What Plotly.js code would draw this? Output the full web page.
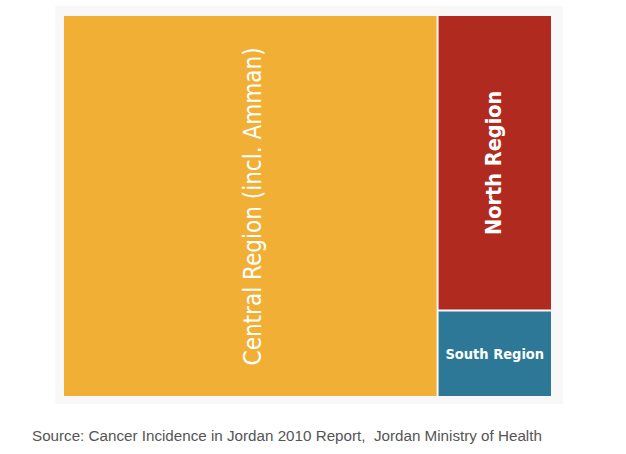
<!DOCTYPE html>
<html>
<head>
<meta charset="utf-8">
<script src="https://cdn.plot.ly/plotly-3.0.1.min.js"></script>
<style>html,body{margin:0;padding:0;background:#fff;}#chart{width:626px;height:454px;}</style>
</head>
<body>
<div id="chart"></div>
<script>
// Data (share of cancer cases by region, %)
var regions = ["Central Region (incl. Amman)", "North Region", "South Region"];
var shares = [76.6, 18.1, 5.3];
var colors = ["#F1B035", "#B02A20", "#2C7896"];
var sourceText = "Source: Cancer Incidence in Jordan 2010 Report,  Jordan Ministry of Health";

var labelFont = "'DejaVu Sans Condensed', 'DejaVu Sans', sans-serif";

var total = shares.reduce(function(a, b){ return a + b; }, 0);
var fc = shares[0] / total;
var rest = shares[1] + shares[2];
var fn = shares[1] / rest;

var trace = {
  type: "treemap",
  labels: regions,
  parents: ["", "", ""],
  values: shares,
  sort: true,
  marker: { colors: colors, line: { width: 0 }, pad: { t: 0, l: 0, r: 0, b: 0 } },
  tiling: { packing: "squarify", pad: 2 },
  pathbar: { visible: false },
  texttemplate: "%{label}",
  textposition: "middle center",
  textfont: {
    family: labelFont,
    size: 14.5,
    color: ["rgba(0,0,0,0)", "rgba(0,0,0,0)", "#ffffff"],
    weight: "bold"
  },
  hoverinfo: "label+value"
};

var layout = {
  width: 626,
  height: 454,
  margin: { l: 64, r: 75, t: 16, b: 58 },
  paper_bgcolor: "#ffffff",
  showlegend: false,
  shapes: [{
    type: "rect", xref: "paper", yref: "paper", layer: "below",
    x0: -0.018, x1: 1.025, y0: -0.021, y1: 1.026,
    fillcolor: "#f8f8f8", line: { width: 0 }
  }],
  annotations: [
    {
      text: regions[0], xref: "paper", yref: "paper",
      x: fc / 2 + 0.006, y: 0.5, textangle: -90, showarrow: false,
      xanchor: "center", yanchor: "middle",
      font: { family: labelFont, size: 24, color: "#ffffff" }
    },
    {
      text: "<b>" + regions[1] + "</b>", xref: "paper", yref: "paper",
      x: fc + (1 - fc) / 2, y: 1 - fn / 2, textangle: -90, showarrow: false,
      xanchor: "center", yanchor: "middle",
      font: { family: labelFont, size: 21.5, color: "#ffffff" }
    },
    {
      text: sourceText, xref: "paper", yref: "paper",
      x: -0.07, y: -0.103, showarrow: false,
      xanchor: "left", yanchor: "middle",
      font: { family: "Liberation Sans, Arial, sans-serif", size: 15.2, color: "#555555" }
    }
  ]
};

Plotly.newPlot("chart", [trace], layout, { displayModeBar: false, staticPlot: true });
</script>
</body>
</html>
